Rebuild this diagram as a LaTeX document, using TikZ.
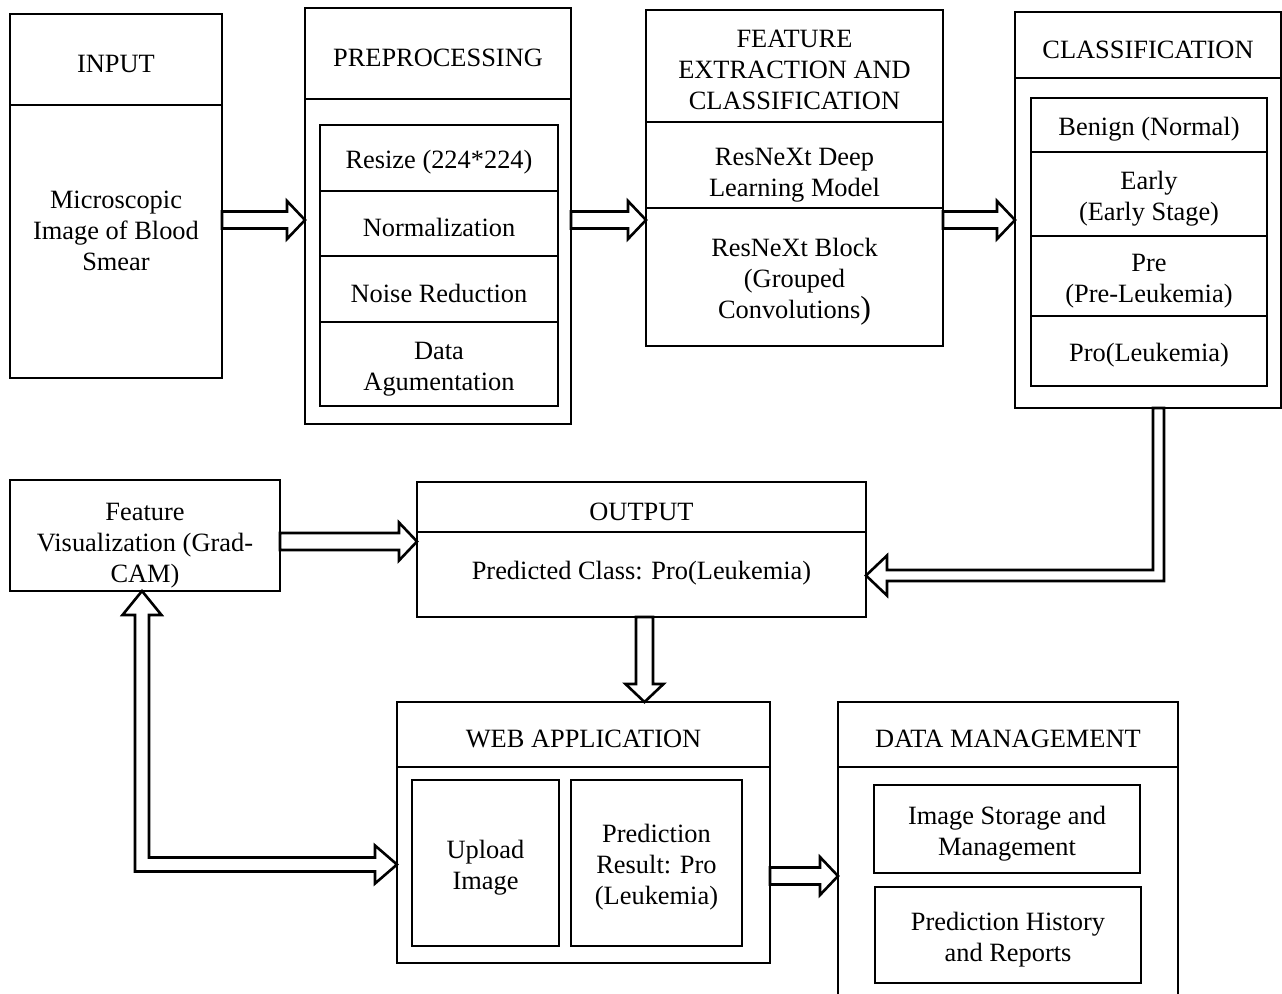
\documentclass[tikz,border=0pt]{standalone}
\usepackage{fontspec}
\setmainfont{Liberation Serif}
\usetikzlibrary{calc,positioning}
\newcommand{\tp}[1][13.5pt]{\rule{0pt}{#1}}
\newcommand{\rightblock}[2]{\filldraw[barrow] let \p1=(#1), \p2=(#2) in (\x1,\y1+4.25pt) -- (\x2-9pt,\y1+4.25pt) -- (\x2-9pt,\y1+9.5pt) -- (\x2,\y1) -- (\x2-9pt,\y1-9.5pt) -- (\x2-9pt,\y1-4.25pt) -- (\x1,\y1-4.25pt) -- cycle;}
\newcommand{\downblock}[2]{\filldraw[barrow] let \p1=(#1), \p2=(#2) in (\x1-4.25pt,\y1) -- (\x1-4.25pt,\y2+9pt) -- (\x1-9.5pt,\y2+9pt) -- (\x1,\y2) -- (\x1+9.5pt,\y2+9pt) -- (\x1+4.25pt,\y2+9pt) -- (\x1+4.25pt,\y1) -- cycle;}
\begin{document}
\begin{tikzpicture}
		[x=0.5pt, y=-0.5pt, line width=1.3pt,
		every node/.style={font=\fontsize{13.2}{15.5}\selectfont, align=center, inner sep=0pt,
			execute at begin node={\tp}},
		frame/.style={draw, outer sep=0pt},
		head/.style={draw, outer sep=0pt, anchor=north},
		cell/.style={draw, outer sep=0pt},
		barrow/.style={draw, fill=white}]
		\useasboundingbox (0,0) rectangle (1282,993);
		\node[frame, minimum width=106pt, minimum height=182pt] (inp) at (116,196) {};
		\node[head, minimum width=106pt, minimum height=45.5pt] (inphead) at (inp.north) {INPUT};
		\node (inptxt) at (116,231) {Microscopic\\Image of Blood\\Smear};
		\node[frame, minimum width=133pt, minimum height=208pt] (prep) at (438,216) {};
		\node[head, minimum width=133pt, minimum height=45.5pt] (prephead) at (prep.north) {PREPROCESSING};
		\node[cell, minimum width=119pt, minimum height=33pt] (resize) at (439,158) {Resize (224*224)};
		\node[cell, minimum width=119pt, minimum height=32.5pt, below=0pt of resize] (norm) {Normalization};
		\node[cell, minimum width=119pt, minimum height=33pt, below=0pt of norm] (noise) {Noise Reduction};
		\node[cell, minimum width=119pt, minimum height=42pt, below=0pt of noise] (aug) {\tp Data\\Agumentation};
		\node[frame, minimum width=148.5pt, minimum height=168pt] (feat) at (794.5,178) {};
		\node[head, minimum width=148.5pt, minimum height=56pt] (feathead) at (feat.north) {\tp[12.5pt]FEATURE\\EXTRACTION AND\\CLASSIFICATION};
		\node[cell, minimum width=148.5pt, minimum height=43pt, below=0pt of feathead] (resnext) {\tp[19pt]ResNeXt Deep\\Learning Model};
		\node[cell, minimum width=148.5pt, minimum height=69pt, below=0pt of resnext] (block) {\tp ResNeXt Block\\(Grouped\\Convolutions{\fontsize{16}{15.5}\selectfont)}};
		\node[frame, minimum width=133pt, minimum height=198pt] (cls) at (1148,210) {};
		\node[head, minimum width=133pt, minimum height=33pt] (clshead) at (cls.north) {CLASSIFICATION};
		\node[cell, minimum width=118pt, minimum height=27pt] (benign) at (1149,125) {Benign (Normal)};
		\node[cell, minimum width=118pt, minimum height=42pt, below=0pt of benign] (early) {\tp Early\\(Early Stage)};
		\node[cell, minimum width=118pt, minimum height=40pt, below=0pt of early] (pre) {\tp Pre\\(Pre-Leukemia)};
		\node[cell, minimum width=118pt, minimum height=35pt, below=0pt of pre] (pro) {Pro(Leukemia)};
		\node[frame, minimum width=135pt, minimum height=55.5pt] (fv) at (145,535.5) {\tp[18.5pt]Feature\\Visualization (Grad-\\CAM)};
		\node[frame, minimum width=224.5pt, minimum height=67.5pt] (out) at (641.5,549.5) {};
		\node[head, minimum width=224.5pt, minimum height=25pt] (outhead) at (out.north) {OUTPUT};
		\node (outtxt) at (641.5,569) {Predicted Class: Pro(Leukemia)};
		\node[frame, minimum width=186.5pt, minimum height=130.5pt] (web) at (583.5,832.5) {};
		\node[head, minimum width=186.5pt, minimum height=32.5pt] (webhead) at (web.north) {WEB APPLICATION};
		\node[cell, minimum width=73.5pt, minimum height=83pt] (upload) at (485.5,863) {\tp Upload\\Image};
		\node[cell, minimum width=85.5pt, minimum height=83pt] (result) at (656.5,863) {\tp Prediction\\Result: Pro\\(Leukemia)};
		\node[frame, minimum width=170pt, minimum height=154pt] (dm) at (1008,856) {};
		\node[head, minimum width=170pt, minimum height=32.5pt] (dmhead) at (dm.north) {DATA MANAGEMENT};
		\node[cell, minimum width=133pt, minimum height=44pt] (storage) at (1007,829) {\tp Image Storage and\\Management};
		\node[cell, minimum width=133pt, minimum height=48pt] (history) at (1008,935) {\tp Prediction History\\and Reports};
		\coordinate (r1) at (0,220);
		\coordinate (r2) at (0,541.5);
		\coordinate (r3) at (0,876);
		\coordinate (c1) at (644.5,0);
		\coordinate (bend) at (1158.5,575.5);
		\coordinate (elbow) at (142,864.5);
		\rightblock{inp.east |- r1}{prep.west |- r1}
		\rightblock{prep.east |- r1}{feat.west |- r1}
		\rightblock{feat.east |- r1}{cls.west |- r1}
		\rightblock{fv.east |- r2}{out.west |- r2}
		\downblock{out.south -| c1}{web.north -| c1}
		\rightblock{web.east |- r3}{dm.west |- r3}
		\filldraw[barrow] let \p1=(bend), \p2=(out.east |- bend), \p3=(cls.south -| bend) in
			(\x1-2.75pt,\y3) -- (\x1-2.75pt,\y1+2.75pt) -- (\x2+10.5pt,\y1+2.75pt) -- (\x2+10.5pt,\y1+10pt)
			-- (\p2) -- (\x2+10.5pt,\y1-10pt) -- (\x2+10.5pt,\y1-2.75pt) -- (\x1+2.75pt,\y1-2.75pt)
			-- (\x1+2.75pt,\y3) -- cycle;
		\filldraw[barrow] let \p1=(elbow), \p2=(fv.south -| elbow), \p3=(web.west |- elbow) in
			(\p2) -- (\x1+9.75pt,\y2-12pt) -- (\x1+3.5pt,\y2-12pt) -- (\x1+3.5pt,\y1+3.5pt)
			-- (\x3-11pt,\y1+3.5pt) -- (\x3-11pt,\y1+9.5pt) -- (\p3) -- (\x3-11pt,\y1-9.5pt)
			-- (\x3-11pt,\y1-3.5pt) -- (\x1-3.5pt,\y1-3.5pt) -- (\x1-3.5pt,\y2-12pt)
			-- (\x1-9.75pt,\y2-12pt) -- cycle;
	\end{tikzpicture}
\end{document}
